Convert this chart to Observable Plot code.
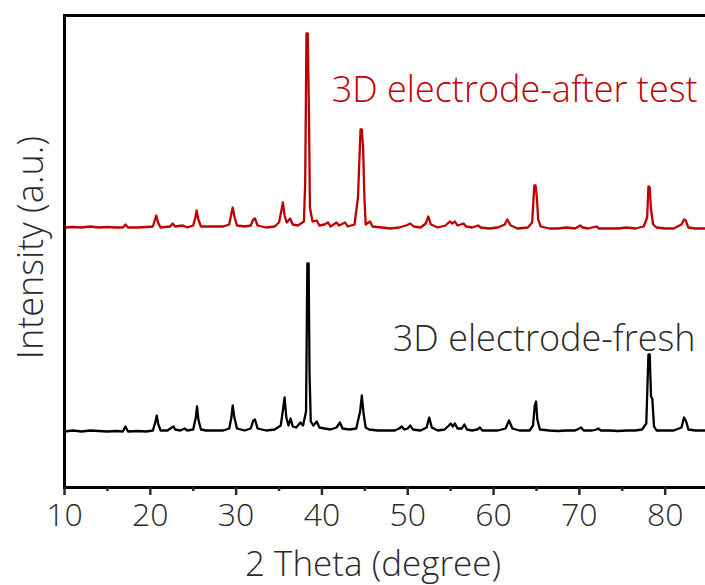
<!DOCTYPE html>
<html>
<head>
<meta charset="utf-8">
<script src="https://cdn.jsdelivr.net/npm/d3@7"></script>
<script src="https://cdn.jsdelivr.net/npm/@observablehq/plot@0.6"></script>
<style>
  html, body { margin: 0; padding: 0; background: #fff; }
  #chart svg { display: block; }
</style>
</head>
<body>
<div id="chart"></div>
<script>
// ---- data ----
const seriesNames = ["3D electrode-fresh", "3D electrode-after test"];
const seriesColors = ["#000000", "#c00000"];
const seriesOffsets = [56, 260];           // vertical stacking offset (a.u.)
const xTicks = [10, 20, 30, 40, 50, 60, 70, 80];
const xMinorTicks = [15, 25, 35, 45, 55, 65, 75];

const freshTheta = [10.0,11,12,13,14,15,16,16.8,17.1,17.4,18.5,19.5,20.3,20.6,20.75,20.9,21.2,22.0,22.5,22.7,22.9,23.5,24.0,24.3,25.0,25.3,25.45,25.6,25.9,26.5,27.5,28.5,29.2,29.45,29.6,29.8,30.1,31.0,31.7,32.0,32.2,32.5,33.5,34.5,35.2,35.5,35.65,35.85,36.1,36.35,36.6,37.0,37.5,37.8,38.15,38.3,38.45,38.55,38.7,39.0,39.4,39.7,40.3,41.0,41.7,42.1,42.4,43.2,44.0,44.45,44.65,44.85,45.1,45.5,46.5,47.5,48.5,49.0,49.3,49.6,50.0,50.3,50.6,51.5,52.2,52.5,52.8,53.5,54.3,54.8,55.0,55.25,55.5,55.8,56.3,56.6,56.9,57.5,58.1,58.4,58.7,59.5,60.5,61.4,61.8,62.2,63.0,64.2,64.6,64.8,64.95,65.1,65.4,66.5,67.5,68.5,69.5,70.0,70.2,70.5,71.5,72.0,72.2,72.5,73.5,74.5,75.5,76.5,77.3,77.8,78.05,78.2,78.35,78.5,78.7,79.0,80,81.0,81.9,82.2,82.45,82.7,83.5,84.7];
const freshInt   = [0,1,0,1,0.5,0,0.5,0,5,0,0.5,0,1,10,16,8,1,1,4,5,2,1,3,1,2,14,25,12,2,1,1,1,3,14,26,14,3,1,3,11,12,3,1,2,6,24,34,14,6,13,5,4,9,6,20,168,168,60,10,6,10,4,3,2,4,9,3,2,3,20,36,18,4,2,1,1,1,3,5,2,3,6,2,1,4,14,4,1,2,6,8,5,8,3,3,7,2,1,2,4,1,1,1,3,11,3,1,1,6,26,30,12,2,1,0.5,1,1,3,4,1,1,2,3,1,1,0.5,1,1,2,8,77,77,35,33,5,1,1,1,4,14,10,2,1,1];

const afterTheta = [10.0,11,12,13,14,15,16,16.8,17.1,17.4,18.5,19.5,20.3,20.55,20.7,20.9,21.2,22.3,22.6,22.9,23.8,24.3,25.0,25.25,25.4,25.6,25.9,27.0,28.5,29.2,29.45,29.6,29.8,30.1,31.0,31.7,32.0,32.2,32.5,33.5,34.5,35.0,35.3,35.45,35.65,35.9,36.3,36.6,37.2,37.9,38.05,38.2,38.35,38.5,38.6,38.9,39.4,39.7,40.3,40.7,41.0,41.7,42.0,42.7,43.0,43.8,44.2,44.5,44.65,44.8,44.95,45.1,45.6,45.9,47,48,49,49.8,50.3,50.7,51.5,52.1,52.4,52.7,53.5,54.4,54.9,55.2,55.5,55.8,56.5,56.8,57.5,58.2,58.5,59.5,60.5,61.3,61.6,62.0,62.8,64.0,64.5,64.75,64.9,65.05,65.2,65.5,66.5,67.5,68.5,69.5,70.1,70.4,71.0,72.0,72.3,73.5,74.5,75.5,76.5,77.5,77.9,78.05,78.2,78.35,78.6,79,80,81,81.9,82.2,82.4,82.7,83.5,84.7];
const afterInt   = [0,0.5,0,1,0,0.5,0,0,3,0,0,0.5,1,8,12,5,0,1,4,1,2,0,2,10,17,8,1,1,1,3,14,20,11,2,1,2,8,9,2,0,1,5,18,25,12,5,9,3,2,6,45,194,194,105,20,6,7,2,3,5,1,5,2,5,1,3,30,98,98,79,30,3,6,1,0,-1,0,2,4,1,0,4,11,3,0,2,6,4,6,2,4,1,0,2,0,-1,0,3,8,2,-1,0,5,42,42,30,8,1,-1,-1,0,-1,2,0,-1,1,-1,-1,-1,0,-1,1,10,41,40,18,3,0,-1,-1,3,8,7,0,-1,-1];

// ---- build tables ----
const rows = [];
freshTheta.forEach((t, i) => rows.push({series: seriesNames[0], theta: t, v: freshInt[i] + seriesOffsets[0]}));
afterTheta.forEach((t, i) => rows.push({series: seriesNames[1], theta: t, v: afterInt[i] + seriesOffsets[1]}));

const font = "'Open Sans', 'Noto Sans', sans-serif";
const textColor = "#2b2b2b";

const chart = Plot.plot({
  width: 705,
  height: 585,
  marginLeft: 64,
  marginRight: 0,
  marginTop: 15,
  marginBottom: 98,
  style: {fontFamily: font, background: "#fff", color: textColor},
  x: {domain: [10, 84.7]},
  y: {domain: [0, 472], axis: null},
  color: {domain: seriesNames, range: seriesColors},
  marks: [
    Plot.line(rows, {x: "theta", y: "v", z: "series", stroke: "series", strokeWidth: 2.3, strokeLinejoin: "round"}),
    // frame: left, top, bottom
    Plot.frame({anchor: "left", stroke: "#000", strokeWidth: 3}),
    Plot.frame({anchor: "top", stroke: "#000", strokeWidth: 3}),
    Plot.frame({anchor: "bottom", stroke: "#000", strokeWidth: 3}),
    Plot.axisX({ticks: xTicks, tickSize: 8, tickPadding: 8, tickFormat: d3.format("d"),
      fontSize: 32, fontWeight: 300, fill: textColor, strokeWidth: 2.5, label: null}),
    Plot.axisX({ticks: xMinorTicks, tickSize: 4, strokeWidth: 2.5, text: null, label: null}),
    Plot.text(["2 Theta (degree)"], {frameAnchor: "bottom", dx: -12, dy: 88, fontSize: 35, fontWeight: 300, fill: textColor, lineAnchor: "bottom"}),
    Plot.text(["Intensity (a.u.)"], {frameAnchor: "left", textAnchor: "middle", rotate: -90, dx: -33, dy: -4, fontSize: 36, fontWeight: 300, fill: textColor}),
    Plot.text([seriesNames[1]], {frameAnchor: "top-right", textAnchor: "end", lineAnchor: "bottom", dx: -8, dy: 86, fontSize: 36, fontWeight: 300, fill: seriesColors[1]}),
    Plot.text([seriesNames[0]], {frameAnchor: "top-right", textAnchor: "end", lineAnchor: "bottom", dx: -10, dy: 335, fontSize: 36, fontWeight: 300, fill: textColor})
  ]
});
document.getElementById("chart").appendChild(chart);
</script>
</body>
</html>
